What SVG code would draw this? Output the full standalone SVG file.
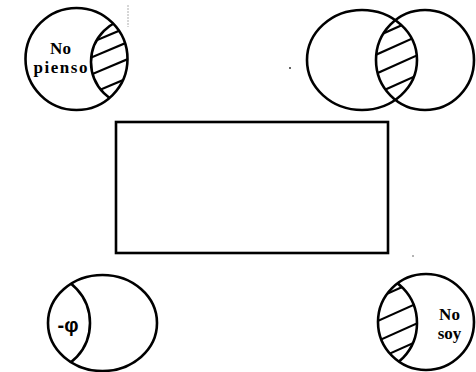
<svg xmlns="http://www.w3.org/2000/svg" width="476" height="372" viewBox="0 0 476 372">
<style>
.o{fill:none;stroke:#000;stroke-width:2.6}
.h{stroke:#000;stroke-width:2.2;fill:none}
.t{font-family:"Liberation Serif",serif;font-weight:bold;font-size:17px;fill:#000}
.p{font-family:"Liberation Sans",sans-serif;font-weight:bold;font-size:20px;fill:#000}
</style>
<defs>
<clipPath id="cA1"><circle cx="76.5" cy="59" r="51"/></clipPath>
<clipPath id="cB1"><circle cx="135" cy="62" r="44"/></clipPath>
<clipPath id="cA2"><ellipse cx="362" cy="60" rx="55" ry="50"/></clipPath>
<clipPath id="cB2"><ellipse cx="425" cy="60" rx="49" ry="50"/></clipPath>
<clipPath id="cA3"><ellipse cx="102.5" cy="323" rx="54.5" ry="48"/></clipPath>
<clipPath id="cA4"><ellipse cx="426" cy="322" rx="48" ry="48"/></clipPath>
<clipPath id="cB4"><ellipse cx="370" cy="323" rx="47" ry="49"/></clipPath>
</defs>
<rect width="476" height="372" fill="#fff"/>
<g id="no-pienso">
<circle class="o" cx="76.5" cy="59" r="51"/>
<g clip-path="url(#cA1)"><circle class="o" cx="135" cy="62" r="44"/></g>
<g clip-path="url(#cA1)"><g clip-path="url(#cB1)">
<line class="h" x1="85" y1="45.1" x2="140" y2="22"/>
<line class="h" x1="85" y1="60.1" x2="140" y2="37"/>
<line class="h" x1="85" y1="77.1" x2="140" y2="54"/>
<line class="h" x1="85" y1="96.1" x2="140" y2="73"/>
</g></g>
<text class="t" x="60.5" y="54" text-anchor="middle">No</text>
<text class="t" x="60.5" y="73" text-anchor="middle" textLength="54" lengthAdjust="spacing">pienso</text>
</g>
<g id="venn">
<ellipse class="o" cx="362" cy="60" rx="55" ry="50"/>
<ellipse class="o" cx="425" cy="60" rx="49" ry="50"/>
<g clip-path="url(#cA2)"><g clip-path="url(#cB2)">
<line class="h" x1="370" y1="39.5" x2="430" y2="12.5"/>
<line class="h" x1="370" y1="57.5" x2="430" y2="30.5"/>
<line class="h" x1="370" y1="76.5" x2="430" y2="49.5"/>
<line class="h" x1="370" y1="96.5" x2="430" y2="69.5"/>
</g></g>
</g>
<g id="box">
<rect class="o" x="116" y="122" width="272" height="131"/>
</g>
<g id="neg-phi">
<ellipse class="o" cx="102.5" cy="323" rx="54.5" ry="48"/>
<g clip-path="url(#cA3)"><ellipse class="o" cx="45" cy="323" rx="45" ry="48"/></g>
<text class="p" x="68" y="332" text-anchor="middle">-φ</text>
</g>
<g id="no-soy">
<ellipse class="o" cx="426" cy="322" rx="48" ry="48"/>
<g clip-path="url(#cA4)"><ellipse class="o" cx="370" cy="323" rx="47" ry="49"/></g>
<g clip-path="url(#cA4)"><g clip-path="url(#cB4)">
<line class="h" x1="370" y1="301.5" x2="430" y2="274.5"/>
<line class="h" x1="370" y1="324.5" x2="430" y2="297.5"/>
<line class="h" x1="370" y1="344.5" x2="430" y2="317.5"/>
<line class="h" x1="370" y1="362.5" x2="430" y2="335.5"/>
</g></g>
<text class="t" x="449.5" y="319.5" text-anchor="middle">No</text>
<text class="t" x="449.5" y="338.5" text-anchor="middle">soy</text>
</g>
<g id="connectors"/>
<g id="marks">
<line x1="128" y1="5" x2="128" y2="27" stroke="#999" stroke-width="0.8" stroke-dasharray="2 1"/>
<circle cx="290" cy="68" r="1" fill="#333"/>
<circle cx="413" cy="256" r="0.8" fill="#555"/>
</g>
</svg>
